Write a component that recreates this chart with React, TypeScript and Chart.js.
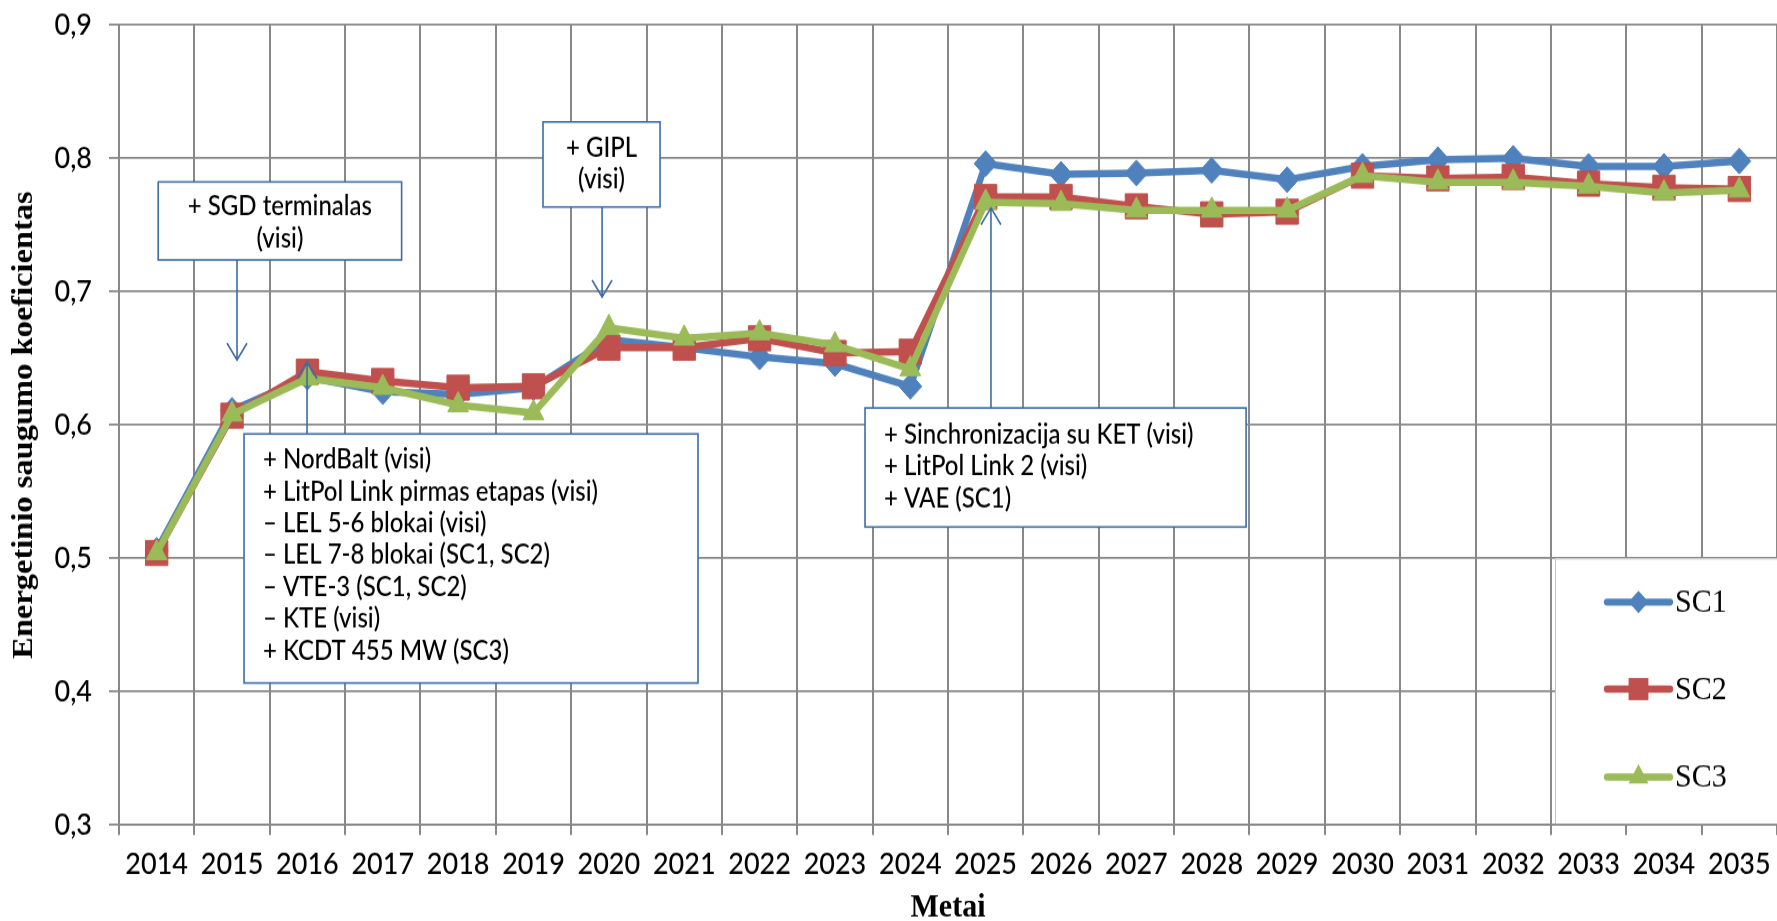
import React, { useEffect, useRef } from 'react';
import { Chart, registerables } from 'chart.js';

Chart.register(...registerables);

// ---------- data ----------
const years = ['2014', '2015', '2016', '2017', '2018', '2019', '2020', '2021', '2022', '2023', '2024',
  '2025', '2026', '2027', '2028', '2029', '2030', '2031', '2032', '2033', '2034', '2035'];

const sc1 = [0.506, 0.611, 0.636, 0.625, 0.623, 0.628, 0.664, 0.658, 0.651, 0.646, 0.629,
  0.796, 0.788, 0.789, 0.791, 0.784, 0.794, 0.799, 0.800, 0.794, 0.794, 0.798];
const sc2 = [0.504, 0.607, 0.640, 0.633, 0.628, 0.629, 0.658, 0.658, 0.665, 0.654, 0.655,
  0.771, 0.771, 0.764, 0.758, 0.760, 0.787, 0.785, 0.786, 0.781, 0.778, 0.777];
const sc3 = [0.504, 0.608, 0.635, 0.628, 0.615, 0.609, 0.673, 0.665, 0.669, 0.660, 0.642,
  0.767, 0.766, 0.761, 0.761, 0.761, 0.787, 0.782, 0.782, 0.779, 0.774, 0.776];

const seriesNames = ['SC1', 'SC2', 'SC3'];
const yMin = 0.3;
const yMax = 0.9;
const yStep = 0.1;

const yTitle = 'Energetinio saugumo koeficientas';
const xTitle = 'Metai';

// annotation texts (anchored to category index / value on the scales)
const noteSgd = ['+ SGD terminalas', '(visi)'];
const noteGipl = ['+ GIPL', '(visi)'];
const noteNordBalt = [
  '+ NordBalt (visi)',
  '+ LitPol Link pirmas etapas (visi)',
  '\u2013 LEL 5-6 blokai (visi)',
  '\u2013 LEL 7-8 blokai (SC1, SC2)',
  '\u2013 VTE-3 (SC1, SC2)',
  '\u2013 KTE (visi)',
  '+ KCDT 455 MW (SC3)',
];
const noteSync = ['+ Sinchronizacija su KET (visi)', '+ LitPol Link 2 (visi)', '+ VAE (SC1)'];

// ---------- layout / style ----------
const W = 1777;
const H_CANVAS = 822;
const H_CSS = 921;
const PLOT_LEFT = 119;
const PLOT_TOP = 22.3;
const PLOT_BOTTOM = 736.3;

const GRID = '#888888';
const NOTE_BLUE = '#3d6ca4';
const COLORS = ['#4F81BD', '#C0504D', '#9BBB59'];
const STYLES = ['rectRot', 'rect', 'triangle'];
const RADII = [11.5, 15.8, 12];
const TICK_FONT = 'Lato';
const NOTE_FONT = '500 24px Lato';
const LINE_GAP = 28.4;

type Note = {
  lines: string[];
  x0: number; x1: number; yTop: number; yBottom: number;
  align: 'center' | 'left';
  firstLine: number;
  arrowX: number; arrowFrom: number; arrowTo: number;
};

const NOTES: Note[] = [
  { lines: noteSgd, x0: 0.02, x1: 3.25, yTop: 0.7823, yBottom: 0.7238, align: 'center', firstLine: 0.7635,
    arrowX: 1.066, arrowFrom: 0.7238, arrowTo: 0.6488 },
  { lines: noteGipl, x0: 5.126, x1: 6.679, yTop: 0.8273, yBottom: 0.7635, align: 'center', firstLine: 0.8078,
    arrowX: 5.91, arrowFrom: 0.7635, arrowTo: 0.696 },
  { lines: noteNordBalt, x0: 1.159, x1: 7.183, yTop: 0.5933, yBottom: 0.4065, align: 'left', firstLine: 0.5738,
    arrowX: 1.995, arrowFrom: 0.5933, arrowTo: 0.6473 },
  { lines: noteSync, x0: 9.399, x1: 14.455, yTop: 0.6128, yBottom: 0.5235, align: 'left', firstLine: 0.5925,
    arrowX: 11.07, arrowFrom: 0.6128, arrowTo: 0.7628 },
];

function drawMarker(ctx: CanvasRenderingContext2D, style: string, x: number, y: number, r: number) {
  ctx.beginPath();
  if (style === 'rectRot') {
    ctx.moveTo(x - r, y);
    ctx.lineTo(x, y - r);
    ctx.lineTo(x + r, y);
    ctx.lineTo(x, y + r);
  } else if (style === 'rect') {
    const s = r * Math.SQRT1_2;
    ctx.rect(x - s, y - s, 2 * s, 2 * s);
  } else {
    const a = (2 * Math.PI) / 3;
    ctx.moveTo(x, y - r);
    ctx.lineTo(x + Math.sin(a) * r, y - Math.cos(a) * r);
    ctx.lineTo(x + Math.sin(2 * a) * r, y - Math.cos(2 * a) * r);
  }
  ctx.closePath();
  ctx.fill();
}

const overlayPlugin = {
  id: 'overlay',
  afterDraw(chart: any) {
    const { ctx, chartArea } = chart;
    const xs = chart.scales.x;
    const ys = chart.scales.y;
    ctx.save();

    // annotation boxes + arrows
    for (const n of NOTES) {
      const l = xs.getPixelForValue(n.x0);
      const r = xs.getPixelForValue(n.x1);
      const t = ys.getPixelForValue(n.yTop);
      const b = ys.getPixelForValue(n.yBottom);
      ctx.fillStyle = '#ffffff';
      ctx.fillRect(l, t, r - l, b - t);
      ctx.strokeStyle = NOTE_BLUE;
      ctx.lineWidth = 1.6;
      ctx.strokeRect(l, t, r - l, b - t);

      ctx.fillStyle = '#000000';
      ctx.font = NOTE_FONT;
      ctx.textBaseline = 'middle';
      const y0 = ys.getPixelForValue(n.firstLine);
      n.lines.forEach((line, i) => {
        if (n.align === 'center') {
          ctx.textAlign = 'center';
          ctx.fillText(line, (l + r) / 2, y0 + i * LINE_GAP);
        } else {
          ctx.textAlign = 'left';
          ctx.fillText(line, l + 19, y0 + i * LINE_GAP);
        }
      });

      const ax = xs.getPixelForValue(n.arrowX);
      const a0 = ys.getPixelForValue(n.arrowFrom);
      const a1 = ys.getPixelForValue(n.arrowTo);
      const dir = a1 > a0 ? 1 : -1;
      ctx.strokeStyle = NOTE_BLUE;
      ctx.lineWidth = 1.6;
      ctx.beginPath();
      ctx.moveTo(ax, a0);
      ctx.lineTo(ax, a1);
      ctx.moveTo(ax - 10, a1 - dir * 15);
      ctx.lineTo(ax, a1);
      ctx.lineTo(ax + 10, a1 - dir * 15);
      ctx.stroke();
    }

    // legend box
    const lgLeft = 1555;
    const lgTop = ys.getPixelForValue(0.5);
    const lgBottom = chartArea.bottom - 1.2;
    ctx.fillStyle = '#ffffff';
    ctx.fillRect(lgLeft, lgTop, W - lgLeft, lgBottom - lgTop);
    ctx.strokeStyle = '#c4c4c4';
    ctx.lineWidth = 1;
    ctx.beginPath();
    ctx.moveTo(lgLeft + 0.5, lgBottom);
    ctx.lineTo(lgLeft + 0.5, lgTop + 0.5);
    ctx.lineTo(W, lgTop + 0.5);
    ctx.stroke();

    const legendY = [537.3, 615, 693.5];
    const legendR = [10, 14, 11.5];
    chart.data.datasets.forEach((ds: any, i: number) => {
      const yy = legendY[i];
      ctx.strokeStyle = COLORS[i];
      ctx.lineWidth = 6.3;
      ctx.lineCap = 'round';
      ctx.beginPath();
      ctx.moveTo(1607, yy);
      ctx.lineTo(1670, yy);
      ctx.stroke();
      ctx.fillStyle = COLORS[i];
      drawMarker(ctx, STYLES[i], 1638.5, yy, legendR[i]);
      ctx.fillStyle = '#000000';
      ctx.font = '30px "Liberation Serif"';
      ctx.textAlign = 'left';
      ctx.textBaseline = 'middle';
      ctx.fillText(ds.label, 1675, yy + 1);
    });

    // axis titles
    ctx.fillStyle = '#000000';
    ctx.font = 'bold 29px "Liberation Serif"';
    ctx.textAlign = 'center';
    ctx.textBaseline = 'middle';
    ctx.save();
    ctx.translate(25, (chartArea.top + chartArea.bottom) / 2);
    ctx.rotate(-Math.PI / 2);
    ctx.fillText(yTitle, 0, 0);
    ctx.restore();
    ctx.font = 'bold 30px "Liberation Serif"';
    ctx.fillText(xTitle, (chartArea.left + chartArea.right) / 2, chartArea.bottom + 74);

    ctx.restore();
  },
};

export default function App() {
  const canvasRef = useRef<HTMLCanvasElement | null>(null);

  useEffect(() => {
    const canvas = canvasRef.current;
    if (!canvas) return;
    const seriesData = [sc1, sc2, sc3];
    const chart = new Chart(canvas, {
      type: 'line',
      data: {
        labels: years,
        datasets: seriesData.map((d, i) => ({
          label: seriesNames[i],
          data: d,
          borderColor: COLORS[i],
          backgroundColor: COLORS[i],
          pointBackgroundColor: COLORS[i],
          pointBorderColor: COLORS[i],
          pointBorderWidth: 1,
          borderWidth: 6.5,
          pointStyle: STYLES[i] as any,
          pointRadius: RADII[i],
          pointHoverRadius: RADII[i],
          tension: 0,
          fill: false,
          clip: false as any,
          order: 3 - i,
        })),
      },
      options: {
        animation: false,
        responsive: false,
        devicePixelRatio: 1,
        events: [],
        layout: { autoPadding: false, padding: { top: PLOT_TOP, right: 0, left: 0, bottom: 0 } },
        plugins: {
          legend: { display: false },
          tooltip: { enabled: false },
        },
        scales: {
          x: {
            type: 'category',
            offset: true,
            grid: { offset: true, color: GRID, lineWidth: 2, tickLength: 9, drawTicks: true },
            border: { color: GRID, width: 2 },
            ticks: {
              color: '#000000',
              font: { family: TICK_FONT, size: 27, weight: 500 as any },
              padding: 10,
              maxRotation: 0,
              minRotation: 0,
              autoSkip: false,
            },
            afterFit: (s: any) => {
              s.height = H_CANVAS - PLOT_BOTTOM;
              s.paddingLeft = 0;
              s.paddingRight = 0;
            },
          },
          y: {
            type: 'linear',
            min: yMin,
            max: yMax,
            grid: { color: GRID, lineWidth: 1.8, tickLength: 10 },
            border: { color: GRID, width: 2 },
            ticks: {
              stepSize: yStep,
              color: '#000000',
              font: { family: TICK_FONT, size: 27, weight: 500 as any },
              padding: 17,
              callback: (v: any) => Number(v).toFixed(1).replace('.', ','),
            },
            afterFit: (s: any) => {
              s.width = PLOT_LEFT;
              s.paddingTop = 0;
              s.paddingBottom = 0;
            },
          },
        },
      },
      plugins: [overlayPlugin],
    });
    return () => chart.destroy();
  }, []);

  return (
    <div style={{ position: 'fixed', left: 0, top: 0, width: W, height: H_CSS, background: '#ffffff' }}>
      <canvas
        ref={canvasRef}
        width={W}
        height={H_CANVAS}
        style={{ width: `${W}px`, height: `${H_CSS}px`, display: 'block' }}
      />
    </div>
  );
}
